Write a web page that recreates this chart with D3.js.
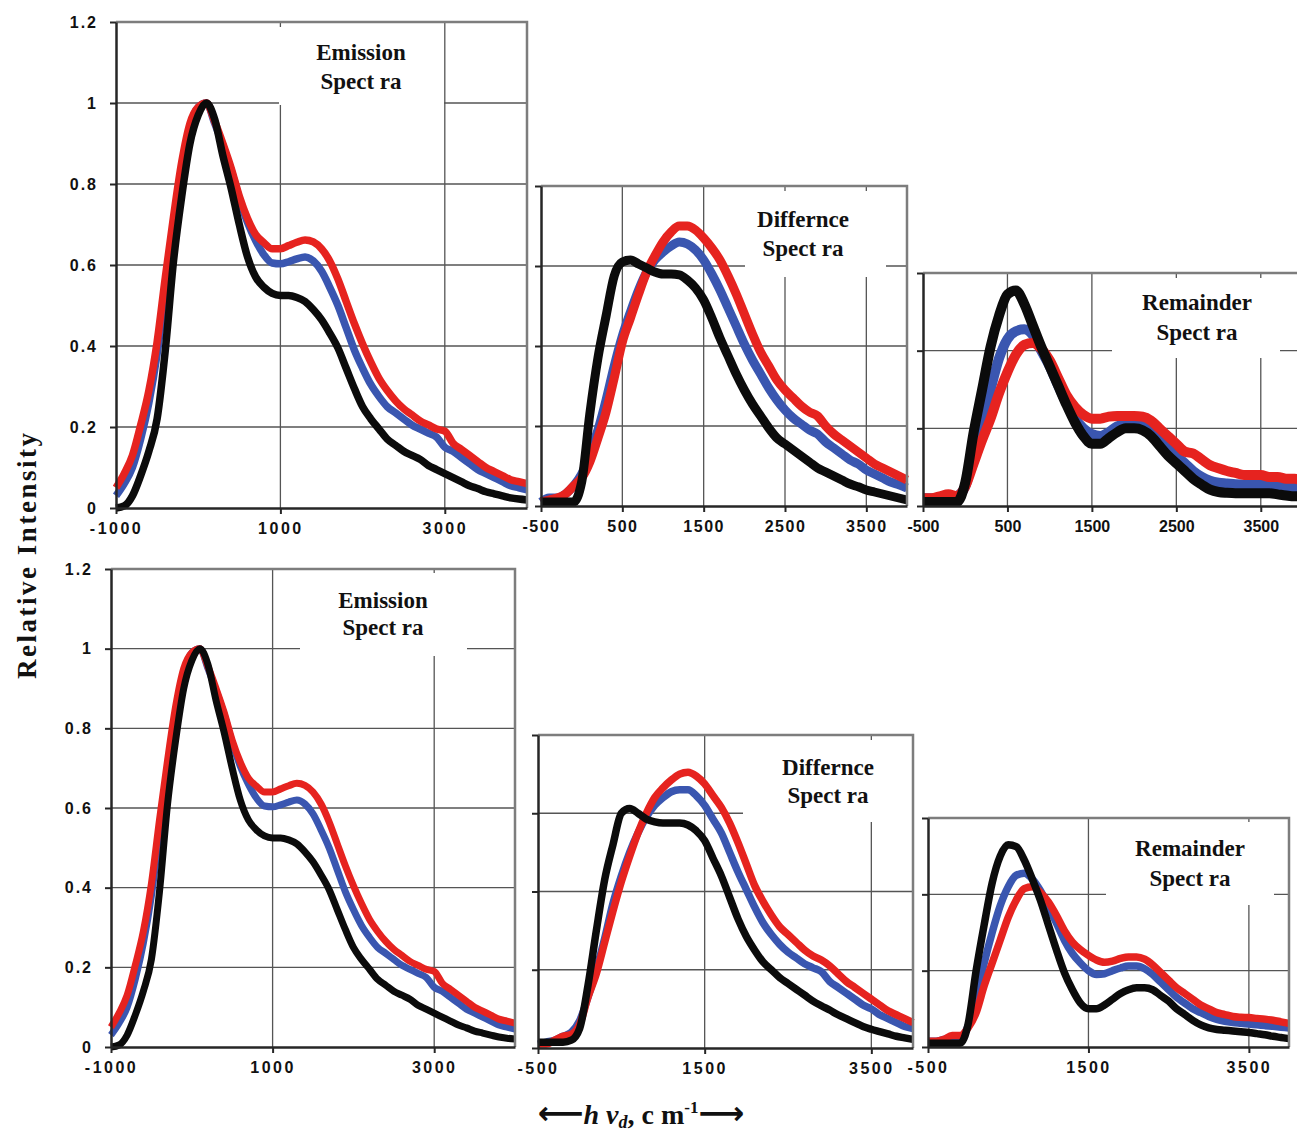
<!DOCTYPE html>
<html>
<head>
<meta charset="utf-8">
<script src="https://cdn.jsdelivr.net/npm/d3@7"></script>
<style>
  html, body { margin: 0; padding: 0; background: #ffffff; }
  svg { display: block; }
</style>
</head>
<body>
<svg id="fig" width="1297" height="1132"></svg>
<script>
// ---- wavenumber grids (cm^-1) ----
const waveEmission = [-1000,-900,-800,-700,-600,-500,-400,-300,-200,-100,0,100,200,300,400,500,600,700,800,900,1000,
  1100,1200,1300,1400,1500,1600,1700,1800,1900,2000,2100,2200,2300,2400,2500,2600,2700,2800,2900,3000,
  3100,3200,3300,3400,3500,3600,3700,3800,3900,4000];
const waveShort = [-500,-400,-300,-200,-100,0,100,200,300,400,500,600,700,800,900,1000,
  1100,1200,1300,1400,1500,1600,1700,1800,1900,2000,2100,2200,2300,2400,2500,2600,2700,2800,2900,3000,
  3100,3200,3300,3400,3500,3600,3700,3800,3900,4000];

// ---- emission spectra (same in both rows) ----
const emissionRed = [0.05,0.085,0.13,0.205,0.29,0.41,0.57,0.72,0.855,0.95,0.99,1.0,0.955,0.90,0.84,0.77,0.715,0.675,0.655,0.64,0.64,
  0.648,0.656,0.662,0.657,0.64,0.61,0.565,0.51,0.455,0.405,0.36,0.32,0.29,0.265,0.245,0.23,0.215,0.205,0.195,0.19,
  0.16,0.145,0.13,0.115,0.10,0.09,0.08,0.07,0.065,0.06];
const emissionBlue = [0.03,0.06,0.10,0.17,0.26,0.38,0.54,0.70,0.84,0.94,0.99,1.0,0.95,0.895,0.835,0.765,0.705,0.66,0.625,0.605,0.603,
  0.608,0.615,0.62,0.61,0.585,0.545,0.50,0.445,0.39,0.345,0.305,0.275,0.25,0.235,0.22,0.205,0.195,0.185,0.175,0.15,
  0.14,0.125,0.11,0.095,0.085,0.075,0.065,0.055,0.05,0.045];
const emissionBlack = [0.0,0.005,0.03,0.08,0.14,0.22,0.39,0.61,0.77,0.90,0.97,1.0,0.96,0.87,0.79,0.70,0.62,0.57,0.545,0.53,0.525,
  0.525,0.52,0.51,0.49,0.465,0.432,0.395,0.345,0.295,0.25,0.22,0.195,0.17,0.155,0.14,0.13,0.12,0.105,0.095,0.085,
  0.075,0.065,0.055,0.048,0.04,0.035,0.03,0.025,0.022,0.02];

// ---- difference spectra, upper row ----
const diffTopRed = [0.01,0.015,0.02,0.03,0.05,0.07,0.11,0.17,0.235,0.32,0.41,0.47,0.53,0.585,0.625,0.66,
  0.685,0.70,0.70,0.69,0.67,0.645,0.615,0.575,0.53,0.48,0.43,0.385,0.35,0.315,0.29,0.27,0.25,0.235,0.225,0.2,
  0.18,0.165,0.15,0.135,0.12,0.105,0.095,0.085,0.075,0.065];
const diffTopBlue = [0.01,0.02,0.02,0.03,0.05,0.08,0.13,0.19,0.265,0.35,0.425,0.485,0.54,0.585,0.615,0.635,
  0.65,0.66,0.655,0.64,0.615,0.58,0.54,0.495,0.45,0.405,0.365,0.33,0.295,0.265,0.24,0.22,0.205,0.19,0.18,0.16,
  0.145,0.13,0.115,0.105,0.09,0.08,0.07,0.06,0.053,0.045];
const diffTopBlack = [0.01,0.01,0.01,0.01,0.01,0.06,0.23,0.37,0.475,0.575,0.61,0.615,0.605,0.595,0.585,0.58,
  0.58,0.578,0.565,0.545,0.515,0.47,0.42,0.375,0.33,0.29,0.255,0.225,0.195,0.17,0.155,0.14,0.125,0.11,0.095,0.085,
  0.075,0.065,0.055,0.048,0.04,0.035,0.03,0.025,0.02,0.015];

// ---- remainder spectra, upper row ----
const remTopRed = [0.02,0.02,0.025,0.03,0.025,0.05,0.11,0.17,0.225,0.29,0.345,0.39,0.415,0.42,0.405,0.375,
  0.33,0.285,0.255,0.235,0.225,0.225,0.23,0.232,0.232,0.232,0.23,0.22,0.2,0.18,0.16,0.14,0.135,0.12,0.105,0.097,
  0.09,0.085,0.08,0.08,0.08,0.075,0.075,0.07,0.07,0.065];
const remTopBlue = [0.02,0.02,0.02,0.02,0.025,0.05,0.13,0.21,0.3,0.38,0.43,0.45,0.455,0.44,0.40,0.36,
  0.31,0.265,0.225,0.2,0.185,0.18,0.19,0.205,0.21,0.215,0.21,0.195,0.175,0.15,0.13,0.11,0.09,0.075,0.065,0.06,
  0.058,0.056,0.055,0.055,0.055,0.055,0.053,0.05,0.048,0.045];
const remTopBlack = [0.01,0.01,0.01,0.01,0.01,0.06,0.19,0.30,0.41,0.49,0.545,0.555,0.52,0.465,0.41,0.36,
  0.31,0.26,0.215,0.18,0.16,0.16,0.175,0.19,0.2,0.2,0.195,0.18,0.155,0.13,0.11,0.09,0.07,0.055,0.042,0.036,
  0.034,0.033,0.033,0.033,0.033,0.033,0.03,0.027,0.025,0.025];

// ---- difference spectra, lower row ----
const diffBotRed = [0.01,0.01,0.02,0.03,0.035,0.06,0.13,0.19,0.27,0.35,0.425,0.49,0.55,0.6,0.64,0.665,
  0.685,0.70,0.705,0.695,0.675,0.645,0.615,0.575,0.525,0.47,0.415,0.375,0.34,0.31,0.29,0.27,0.25,0.235,0.225,0.21,
  0.19,0.17,0.155,0.14,0.125,0.11,0.095,0.085,0.075,0.065];
const diffBotBlue = [0.01,0.015,0.02,0.03,0.04,0.07,0.13,0.2,0.28,0.37,0.44,0.5,0.55,0.59,0.62,0.64,
  0.655,0.66,0.66,0.645,0.62,0.585,0.55,0.5,0.45,0.405,0.36,0.32,0.29,0.265,0.245,0.23,0.215,0.205,0.195,0.17,
  0.155,0.14,0.125,0.11,0.1,0.085,0.075,0.065,0.055,0.05];
const diffBotBlack = [0.015,0.015,0.015,0.015,0.02,0.05,0.16,0.30,0.43,0.52,0.6,0.612,0.60,0.585,0.578,0.575,
  0.575,0.575,0.57,0.555,0.53,0.485,0.44,0.385,0.33,0.285,0.25,0.22,0.2,0.18,0.165,0.15,0.135,0.12,0.108,0.097,
  0.085,0.075,0.065,0.055,0.048,0.042,0.036,0.03,0.026,0.022];

// ---- remainder spectra, lower row ----
const remBotRed = [0.015,0.015,0.02,0.03,0.03,0.05,0.09,0.16,0.22,0.28,0.34,0.385,0.415,0.42,0.405,0.38,
  0.345,0.305,0.275,0.255,0.24,0.228,0.222,0.225,0.232,0.236,0.236,0.23,0.215,0.195,0.175,0.155,0.14,0.125,0.11,0.1,
  0.09,0.085,0.08,0.078,0.077,0.075,0.073,0.07,0.066,0.062];
const remBotBlue = [0.015,0.015,0.02,0.025,0.025,0.055,0.13,0.22,0.3,0.37,0.42,0.45,0.455,0.44,0.41,0.37,
  0.325,0.28,0.245,0.22,0.2,0.19,0.192,0.2,0.207,0.212,0.212,0.205,0.19,0.17,0.15,0.13,0.115,0.1,0.09,0.08,
  0.072,0.067,0.064,0.062,0.06,0.058,0.056,0.054,0.052,0.05];
const remBotBlack = [0.01,0.01,0.01,0.01,0.01,0.06,0.2,0.32,0.43,0.5,0.53,0.525,0.49,0.44,0.385,0.32,
  0.255,0.195,0.15,0.115,0.1,0.1,0.11,0.125,0.14,0.15,0.155,0.155,0.15,0.135,0.12,0.1,0.085,0.07,0.058,0.05,
  0.046,0.044,0.042,0.04,0.038,0.035,0.032,0.028,0.025,0.022];

// ---- tick values ----
const yTicksEmission = [0, 0.2, 0.4, 0.6, 0.8, 1, 1.2];
const yTicksDifference = [0, 0.2, 0.4, 0.6, 0.8];
const yTicksRemainder = [0, 0.2, 0.4, 0.6];
const xTicksEmission = [-1000, 1000, 3000];
const xTicksTopShort = [-500, 500, 1500, 2500, 3500];
const xTicksBottomShort = [-500, 1500, 3500];

// ---- panel titles ----
const titleEmission = ["Emission", "Spect ra"];
const titleDifference = ["Differnce", "Spect ra"];
const titleRemainder = ["Remainder", "Spect ra"];

// ---- series colours (drawn in this order) ----
const seriesColors = { blue: "#3a56b0", red: "#e6231f", black: "#0b0b0b" };

// ---- panel layout ----
const panels = [
  { wave: waveEmission, red: emissionRed, blue: emissionBlue, black: emissionBlack,
    x0: 116, x1: 527, y0: 22, y1: 508, xDom: [-1000, 4000], yTicks: yTicksEmission,
    xTicks: xTicksEmission, yLabels: true, lw: 7.5, xSpacing: 2.5,
    box: [279, 27, 444, 105], title: titleEmission, tx: 361, ty: [60, 89] },
  { wave: waveShort, red: diffTopRed, blue: diffTopBlue, black: diffTopBlack,
    x0: 541, x1: 907, y0: 186, y1: 506, xDom: [-500, 4000], yTicks: yTicksDifference,
    xTicks: xTicksTopShort, yLabels: false, lw: 9, xSpacing: 1.5,
    box: [745, 191, 886, 277], title: titleDifference, tx: 803, ty: [227, 256] },
  { wave: waveShort, red: remTopRed, blue: remTopBlue, black: remTopBlack,
    x0: 923, x1: 1303, y0: 273, y1: 506, xDom: [-500, 4000], yTicks: yTicksRemainder,
    xTicks: xTicksTopShort, yLabels: false, lw: 10, xSpacing: 0,
    box: [1112, 278, 1280, 358], title: titleRemainder, tx: 1197, ty: [310, 340] },
  { wave: waveEmission, red: emissionRed, blue: emissionBlue, black: emissionBlack,
    x0: 111, x1: 515, y0: 569, y1: 1047, xDom: [-1000, 4000], yTicks: yTicksEmission,
    xTicks: xTicksEmission, yLabels: true, lw: 7, xSpacing: 2.5,
    box: [300, 573, 467, 656], title: titleEmission, tx: 383, ty: [608, 635] },
  { wave: waveShort, red: diffBotRed, blue: diffBotBlue, black: diffBotBlack,
    x0: 538, x1: 913, y0: 735, y1: 1048, xDom: [-500, 4000], yTicks: yTicksDifference,
    xTicks: xTicksBottomShort, yLabels: false, lw: 7.5, xSpacing: 2.5,
    box: [743, 740, 912, 822], title: titleDifference, tx: 828, ty: [775, 803] },
  { wave: waveShort, red: remBotRed, blue: remBotBlue, black: remBotBlack,
    x0: 928, x1: 1289, y0: 818, y1: 1047, xDom: [-500, 4000], yTicks: yTicksRemainder,
    xTicks: xTicksBottomShort, yLabels: false, lw: 7.5, xSpacing: 2.5,
    box: [1106, 822, 1274, 905], title: titleRemainder, tx: 1190, ty: [856, 886] }
];

const svg = d3.select("#fig");
svg.append("rect").attr("width", 1297).attr("height", 1132).attr("fill", "#ffffff");

const tickFont = "'Liberation Sans', Arial, sans-serif";
const serifFont = "'Liberation Serif', 'Times New Roman', serif";
const gridColor = "#555555";
const frameColor = "#7d7d7d";
const axisColor = "#262626";

panels.forEach(p => {
  const yMax = p.yTicks[p.yTicks.length - 1];
  const x = d3.scaleLinear().domain(p.xDom).range([p.x0, p.x1]);
  const y = d3.scaleLinear().domain([0, yMax]).range([p.y1, p.y0]);
  const g = svg.append("g");

  // plot area
  g.append("rect")
    .attr("x", p.x0).attr("y", p.y0)
    .attr("width", p.x1 - p.x0).attr("height", p.y1 - p.y0)
    .attr("fill", "#ffffff");

  // horizontal grid lines
  g.append("g").selectAll("line")
    .data(p.yTicks.filter(v => v > 0 && v < yMax))
    .join("line")
    .attr("x1", p.x0).attr("x2", p.x1)
    .attr("y1", d => y(d)).attr("y2", d => y(d))
    .attr("stroke", gridColor).attr("stroke-width", 1.3);

  // vertical grid lines
  g.append("g").selectAll("line")
    .data(p.xTicks.filter(v => v > p.xDom[0]))
    .join("line")
    .attr("x1", d => x(d)).attr("x2", d => x(d))
    .attr("y1", p.y0).attr("y2", p.y1)
    .attr("stroke", gridColor).attr("stroke-width", 1.3);

  // title box with a white background over the grid
  const [bx0, by0, bx1, by1] = p.box;
  g.append("rect")
    .attr("x", bx0).attr("y", by0)
    .attr("width", bx1 - bx0).attr("height", by1 - by0)
    .attr("fill", "#ffffff");
  p.title.forEach((t, i) => {
    g.append("text")
      .attr("x", p.tx).attr("y", p.ty[i])
      .attr("text-anchor", "middle")
      .attr("font-family", serifFont)
      .attr("font-weight", "bold")
      .attr("font-size", 23)
      .attr("fill", "#111")
      .text(t);
  });

  // spectra
  const line = d3.line()
    .x(d => x(d[0]))
    .y(d => y(d[1]))
    .curve(d3.curveMonotoneX);
  ["blue", "red", "black"].forEach(key => {
    const pts = p.wave.map((w, i) => [w, p[key][i]]);
    g.append("path")
      .datum(pts)
      .attr("d", line)
      .attr("fill", "none")
      .attr("stroke", seriesColors[key])
      .attr("stroke-width", p.lw)
      .attr("stroke-linejoin", "round")
      .attr("stroke-linecap", "butt");
  });

  // outer frame (top and right)
  g.append("path")
    .attr("d", `M${p.x0},${p.y0}H${p.x1}V${p.y1}`)
    .attr("fill", "none")
    .attr("stroke", frameColor)
    .attr("stroke-width", 2.5);

  // x axis
  const xAxis = d3.axisBottom(x)
    .tickValues(p.xTicks)
    .tickSize(6)
    .tickSizeOuter(0)
    .tickPadding(9)
    .tickFormat(d => String(d));
  const gx = g.append("g")
    .attr("transform", `translate(0,${p.y1})`)
    .call(xAxis);
  gx.select(".domain").attr("stroke", axisColor).attr("stroke-width", 2.5);
  gx.selectAll(".tick line").attr("stroke", axisColor).attr("stroke-width", 2);
  gx.selectAll(".tick text")
    .attr("font-family", tickFont)
    .attr("font-weight", "bold")
    .attr("font-size", 16)
    .attr("letter-spacing", p.xSpacing)
    .attr("fill", "#111");

  // y axis
  const yAxis = d3.axisLeft(y)
    .tickValues(p.yTicks)
    .tickSize(6)
    .tickSizeOuter(0)
    .tickPadding(12)
    .tickFormat(d => (p.yLabels ? String(+d.toFixed(1)) : ""));
  const gy = g.append("g")
    .attr("transform", `translate(${p.x0},0)`)
    .call(yAxis);
  gy.select(".domain").attr("stroke", axisColor).attr("stroke-width", 2.5);
  gy.selectAll(".tick line").attr("stroke", axisColor).attr("stroke-width", 2);
  gy.selectAll(".tick text")
    .attr("font-family", tickFont)
    .attr("font-weight", "bold")
    .attr("font-size", 16)
    .attr("letter-spacing", 2)
    .attr("fill", "#111");
});

// y axis title
svg.append("text")
  .attr("transform", "translate(36,556) rotate(-90)")
  .attr("text-anchor", "middle")
  .attr("font-family", serifFont)
  .attr("font-weight", "bold")
  .attr("font-size", 27)
  .attr("fill", "#111")
  .attr("textLength", 246)
  .attr("lengthAdjust", "spacing")
  .text("Relative Intensity");

// x axis title: ⟵ hν_d, c m^-1 ⟶
const xt = svg.append("text")
  .attr("x", 641).attr("y", 1124)
  .attr("text-anchor", "middle")
  .attr("font-family", serifFont)
  .attr("font-weight", "bold")
  .attr("font-size", 28)
  .attr("fill", "#111");
xt.append("tspan").attr("font-family", "'DejaVu Sans', sans-serif").attr("font-size", 32).text("\u27F5");
xt.append("tspan").attr("font-style", "italic").text("h \u03BD");
xt.append("tspan").attr("font-style", "italic").attr("font-size", 18).attr("dy", 4).text("d");
xt.append("tspan").attr("dy", -4).text(", c m");
xt.append("tspan").attr("font-size", 17).attr("dy", -11).text("-1");
xt.append("tspan").attr("dy", 11).attr("font-family", "'DejaVu Sans', sans-serif").attr("font-size", 32).text("\u27F6");
</script>
</body>
</html>
